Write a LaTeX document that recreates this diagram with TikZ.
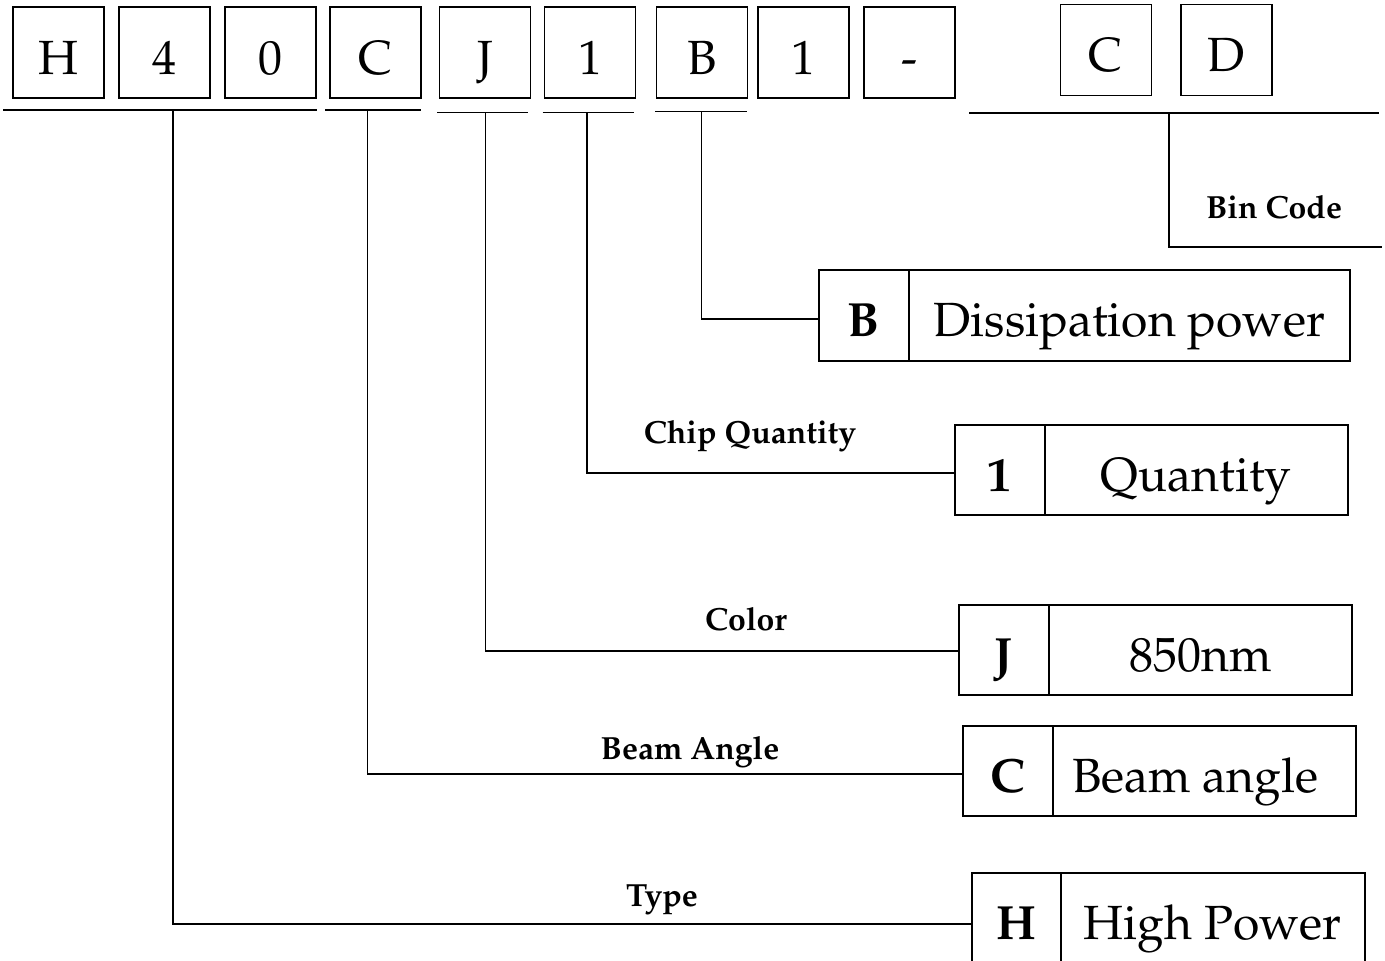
\documentclass[tikz,border=0pt]{standalone}
\usepackage[T1]{fontenc}
\usepackage{mathpazo}
\usetikzlibrary{calc}
\tikzset{
  rule/.style={line width=1.6pt},
  topbox/.style={draw, line width=1.5pt, minimum width=91pt, minimum height=91pt, inner sep=0pt,
    font=\fontsize{48}{56}\selectfont, text height=43pt, text depth=0pt},
  keycell/.style={draw, line width=1.5pt, minimum height=90pt, inner sep=0pt, anchor=north west,
    font=\bfseries\fontsize{48}{56}\selectfont, text height=43pt, text depth=0pt},
  desccell/.style={draw, line width=1.5pt, minimum height=90pt, inner sep=0pt, anchor=north west,
    font=\fontsize{48}{56}\selectfont, text height=43pt, text depth=0pt},
  lbl/.style={font=\bfseries\fontsize{32}{37}\selectfont, anchor=base, inner sep=0pt}
}
\begin{document}
\begin{tikzpicture}[x=1pt,y=-1pt]
\useasboundingbox (0,0) rectangle (1385,961);
% top code boxes
\node[topbox] (t1) at (58.5,52.5) {H};
\node[topbox] (t2) at (164.5,52.5) {4};
\node[topbox] (t3) at (270.5,52.5) {0};
\node[topbox] (t4) at (375.5,52.5) {C};
\node[topbox] (t5) at (485,52.5) {J};
\node[topbox] (t6) at (590,52.5) {1};
\node[topbox] (t7) at (702,52.5) {B};
\node[topbox] (t8) at (803.5,52.5) {1};
\node[topbox] (t9) at (909.5,52.5) {-};
\node[topbox] (t10) at (1106,50) {C};
\node[topbox] (t11) at (1226.5,50) {D};
% underlines
\draw[rule] (3,110) -- (317,110);
\draw[rule] (325,110) -- (421,110);
\draw[rule] (437,112.5) -- (527.5,112.5);
\draw[rule] (542.5,112.5) -- (633.5,112.5);
\draw[rule] (655,111.5) -- (747,111.5);
\draw[rule] (969,112.7) -- (1379,112.7);
\coordinate (jH) at (172.7,110);
\coordinate (jC) at (367.3,110);
\coordinate (jJ) at (485.4,112.5);
\coordinate (jQ) at (587,112.5);
\coordinate (jB) at (701.4,111.5);
\coordinate (jD) at (1169,112.7);
\coordinate (eD) at (1382,246.7);
% right boxes
\node[keycell, minimum width=90pt, minimum height=91pt] (kB) at (818,269) {B};
\node[desccell, minimum width=441pt, minimum height=91pt] (dB) at (908,269) {Dissipation power};
\node[keycell, minimum width=90pt] (kQ) at (954,424) {1};
\node[desccell, minimum width=303pt] (dQ) at (1044,424) {Quantity};
\node[keycell, minimum width=90pt] (kJ) at (958,604) {J};
\node[desccell, minimum width=303pt] (dJ) at (1048,604) {850nm};
\node[keycell, minimum width=90pt] (kC) at (962,725) {C};
\node[desccell, minimum width=303pt] (dC) at (1052,725) {Beam angle\kern18pt};
\node[keycell, minimum width=89pt] (kH) at (971,872) {H};
\node[desccell, minimum width=304pt] (dH) at (1060,872) {High Power};
% connectors
\draw[rule] (jD) |- (eD);
\draw[rule] (jB) |- ($(kB.west)+(0,3.5)$);
\draw[rule] (jQ) |- ($(kQ.west)+(0,3)$);
\draw[rule] (jJ) |- ($(kJ.west)+(0,1)$);
\draw[rule] (jC) |- ($(kC.west)+(0,3)$);
\draw[rule] (jH) |- ($(kH.west)+(0,6)$);
% labels
\node[lbl] (lBin) at (1274,218) {Bin Code};
\node[lbl] (lChip) at (750,443) {Chip Quantity};
\node[lbl] (lCol) at (746,630) {Color};
\node[lbl] (lBeam) at (690,759) {Beam Angle};
\node[lbl] (lType) at (662,906) {Type};
\end{tikzpicture}
\end{document}
